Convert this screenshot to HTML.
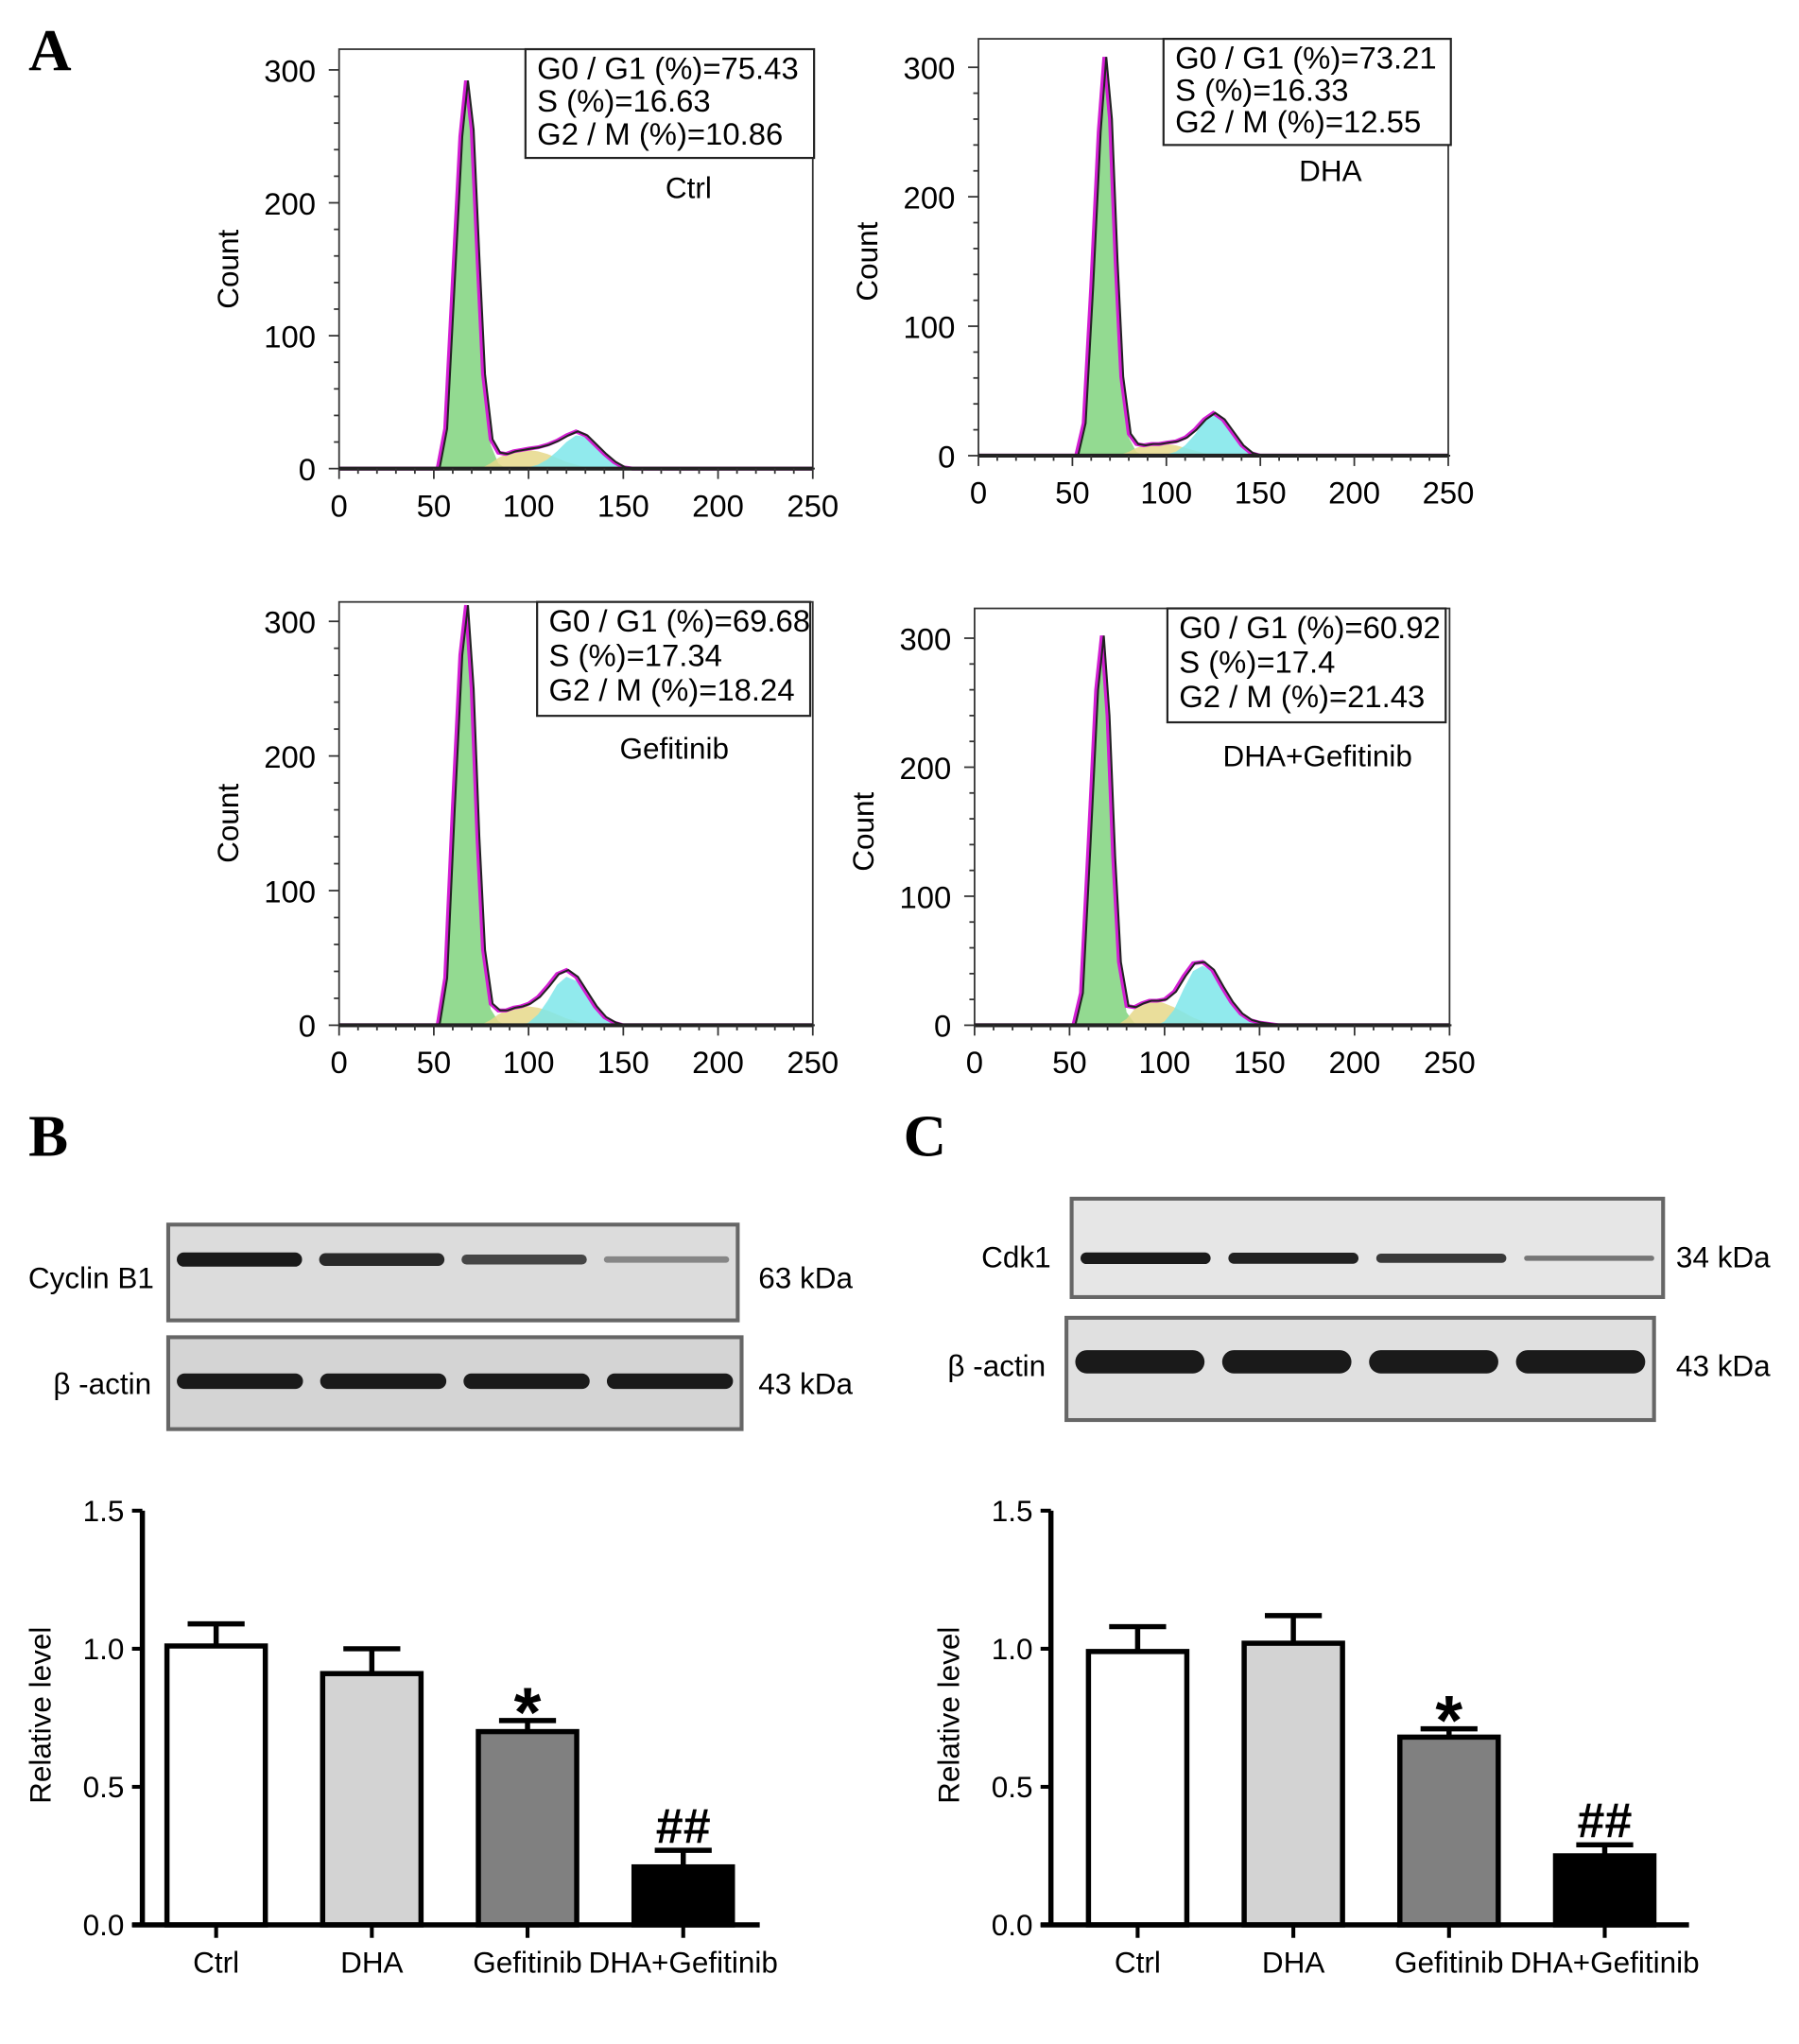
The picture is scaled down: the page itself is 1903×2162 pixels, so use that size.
<!DOCTYPE html>
<html><head><meta charset="utf-8"><style>
html,body{margin:0;padding:0;background:#fff;}
svg{display:block;font-family:"Liberation Sans",Arial,sans-serif;}
</style></head><body>
<svg id="fig" width="1903" height="2162" viewBox="0 0 1390 1579" preserveAspectRatio="none" xmlns="http://www.w3.org/2000/svg">
<text x="22" y="54" font-family="Liberation Serif" font-weight="bold" font-size="46">A</text>
<text x="22" y="893" font-family="Liberation Serif" font-weight="bold" font-size="46">B</text>
<text x="698" y="893" font-family="Liberation Serif" font-weight="bold" font-size="46">C</text>
</svg>
<script>
const NS='http://www.w3.org/2000/svg';
const svg=document.getElementById('fig');
// ---------- data ----------
const histX=[45,52,56,60,64,67,70,73,76,80,84,88,92,96,100,105,110,115,120,125,130,135,140,145,150,155,160];
const ctrlG1=[0,0,30,140,250,292,255,160,70,18,4,0,0,0,0,0,0,0,0,0,0,0,0,0,0,0,0];
const ctrlS=[0,0,0,0,0,0,0,0,1,4,8,11,13,14,14,13,11,8,5,3,1,0,0,0,0,0,0];
const ctrlG2=[0,0,0,0,0,0,0,0,0,0,0,0,0,0,1,3,7,13,20,25,24,18,11,5,1,0,0];
const dhaG1=[0,0,25,130,250,308,260,150,60,14,3,0,0,0,0,0,0,0,0,0,0,0,0,0,0,0,0];
const dhaS=[0,0,0,0,0,0,0,0,1,3,6,8,9,9,9,8,6,4,2,1,0,0,0,0,0,0,0];
const dhaG2=[0,0,0,0,0,0,0,0,0,0,0,0,0,0,1,3,8,16,26,32,28,18,8,2,0,0,0];
const gefG1=[0,0,35,160,275,312,250,140,55,12,3,0,0,0,0,0,0,0,0,0,0,0,0,0,0,0,0];
const gefS=[0,0,0,0,0,0,0,0,1,4,8,11,13,14,14,13,11,8,5,3,1,0,0,0,0,0,0];
const gefG2=[0,0,0,0,0,0,0,0,0,0,0,0,0,0,2,8,18,30,36,33,24,14,6,2,0,0,0];
const comboG1=[0,0,25,140,260,302,240,130,48,10,2,0,0,0,0,0,0,0,0,0,0,0,0,0,0,0,0];
const comboS=[0,0,0,0,0,0,0,0,1,5,12,17,19,19,17,14,10,6,3,1,0,0,0,0,0,0,0];
const comboG2=[0,0,0,0,0,0,0,0,0,0,0,0,0,0,3,12,28,42,46,42,30,18,9,4,2,1,0];
const histTicks=[0,50,100,150,200,250];
const countTicks=[0,100,200,300];
const barCats=['Ctrl','DHA','Gefitinib','DHA+Gefitinib'];
const cyclinVals=[1.01,0.91,0.70,0.21];
const cyclinErr=[0.08,0.09,0.04,0.06];
const cdkVals=[0.99,1.02,0.68,0.25];
const cdkErr=[0.09,0.10,0.03,0.04];
const barTicks=[0.0,0.5,1.0,1.5];
const cyclinBands=[1.0,0.9,0.7,0.25];
const cdkBands=[1.0,0.95,0.8,0.4];
const actinBands=[1.0,1.0,1.0,1.0];

function el(tag,attrs,parent){const e=document.createElementNS(NS,tag);for(const k in attrs)e.setAttribute(k,attrs[k]);(parent||svg).appendChild(e);return e;}
function txt(x,y,s,size,parent,extra){const t=el('text',Object.assign({x:x,y:y,'font-size':size},extra||{}),parent);t.textContent=s;return t;}

function hist(c){
  const g=el('g',{});
  
  
  const sx=v=>c.x0+(v/250)*(c.x1-c.x0);
  const sy=v=>c.y0-v*(c.y0-c.y300)/300;
  const area=(arr,fill)=>{let d='M'+sx(histX[0])+','+sy(0);histX.forEach((x,i)=>{d+=' L'+sx(x)+','+sy(arr[i]);});d+=' L'+sx(histX[histX.length-1])+','+sy(0)+'Z';const p=el('path',{d:d,fill:fill,opacity:0.85},g);return p;};
  const a1=area(c.g1,'#80d47e');
  const a2=area(c.s,'#e6d88a');
  const a3=area(c.g2,'#7ee6ea');
  const tot=histX.map((x,i)=>c.g1[i]+c.s[i]+c.g2[i]);
  let d='M'+c.x0+','+sy(0);histX.forEach((x,i)=>{d+=' L'+sx(x)+','+sy(tot[i]);});d+=' L'+c.x1+','+sy(0);
  const m=el('path',{d:d,fill:'none',stroke:'#d21ed2','stroke-width':3},g);
  
  const b=el('path',{d:d,fill:'none',stroke:'#222','stroke-width':1.5,transform:'translate(1.5,0)'},g);
  
  el('rect',{x:c.x0,y:c.top,width:c.x1-c.x0,height:c.y0-c.top,fill:'none',stroke:'#333','stroke-width':1.3},g);
  el('line',{x1:c.x0,x2:c.x1,y1:c.y0,y2:c.y0,stroke:'#222','stroke-width':3},g);
  for(let v=0;v<=250;v+=10){const big=v%50===0;el('line',{x1:sx(v),x2:sx(v),y1:c.y0,y2:c.y0+(big?8:4),stroke:'#333','stroke-width':1.3},g);}
  histTicks.forEach(v=>{const t=txt(sx(v),c.y0+37,String(v),24,g,{'text-anchor':'middle'});});
  for(let v=0;v<=300;v+=20){const big=v%100===0;el('line',{x1:c.x0-(big?8:4),x2:c.x0,y1:sy(v),y2:sy(v),stroke:'#333','stroke-width':1.3},g);}
  countTicks.forEach(v=>{const t=txt(c.x0-18,sy(v)+9,String(v),24,g,{'text-anchor':'end'});});
  const yl=txt(0,0,'Count',23,g,{'text-anchor':'middle',transform:'translate('+(c.x0-78)+','+(c.y0+c.y300)/2+') rotate(-90)'});
  
  const bx=el('rect',{x:c.bx0,y:c.top,width:c.bx1-c.bx0,height:c.bh,fill:'#fff',stroke:'#222','stroke-width':1.6},g);
  
  c.stats.forEach((s,i)=>{const t=txt(c.bx0+9,c.top+23+i*(c.bh-8)/3,s,24,g);});
  const tl=txt(c.lx,c.ly,c.label,23,g,{'text-anchor':'middle'});
  
}
hist({name:'histogram-ctrl',x0:262,x1:628,y0:362,y300:54,top:38,bx0:406,bx1:629,bh:84,g1:ctrlG1,s:ctrlS,g2:ctrlG2,stats:['G0 / G1 (%)=75.43','S (%)=16.63','G2 / M (%)=10.86'],label:'Ctrl',lx:532,ly:153});
hist({name:'histogram-dha',x0:756,x1:1119,y0:352,y300:52,top:30,bx0:899,bx1:1121,bh:82,g1:dhaG1,s:dhaS,g2:dhaG2,stats:['G0 / G1 (%)=73.21','S (%)=16.33','G2 / M (%)=12.55'],label:'DHA',lx:1028,ly:140});
hist({name:'histogram-gefitinib',x0:262,x1:628,y0:792,y300:480,top:465,bx0:415,bx1:626,bh:88,g1:gefG1,s:gefS,g2:gefG2,stats:['G0 / G1 (%)=69.68','S (%)=17.34','G2 / M (%)=18.24'],label:'Gefitinib',lx:521,ly:586});
hist({name:'histogram-dha-gefitinib',x0:753,x1:1120,y0:792,y300:493,top:470,bx0:902,bx1:1117,bh:88,g1:comboG1,s:comboS,g2:comboG2,stats:['G0 / G1 (%)=60.92','S (%)=17.4','G2 / M (%)=21.43'],label:'DHA+Gefitinib',lx:1018,ly:592});

function blot(c){
  const g=el('g',{});
  
  
  el('rect',{x:c.x0,y:c.y0,width:c.x1-c.x0,height:c.y1-c.y0,fill:c.bg,stroke:'#666','stroke-width':3},g);
  const w=(c.x1-c.x0)/4;
  c.bands.forEach((v,i)=>{const h=c.th*Math.max(v,0.45);const b=el('rect',{x:c.x0+w*(i+0.06),y:c.by-h/2,width:w*0.88,height:h,rx:h/2,fill:'#1a1a1a',opacity:0.25+0.75*v},g);});
  const l=txt(c.lx,c.ly,c.label,23,g,{'text-anchor':'end'});
  const k=txt(c.x1+c.kdx,c.ly,c.kda,23,g);
}
blot({name:'blot-cyclin-b1',x0:130,x1:570,y0:946,y1:1020,bg:'#dcdcdc',bands:cyclinBands,by:973,th:11,label:'Cyclin B1',lx:119,ly:995,kda:'63 kDa',kdx:16});
blot({name:'blot-actin-b',x0:130,x1:573,y0:1033,y1:1104,bg:'#d4d4d4',bands:actinBands,by:1067,th:12,label:'β -actin',lx:117,ly:1077,kda:'43 kDa',kdx:13});
blot({name:'blot-cdk1',x0:828,x1:1285,y0:926,y1:1002,bg:'#e6e6e6',bands:cdkBands,by:972,th:9,label:'Cdk1',lx:812,ly:979,kda:'34 kDa',kdx:10});
blot({name:'blot-actin-c',x0:824,x1:1278,y0:1018,y1:1097,bg:'#e0e0e0',bands:actinBands,by:1052,th:18,label:'β -actin',lx:808,ly:1063,kda:'43 kDa',kdx:17});

function bars(c){
  const g=el('g',{});
  
  
  const sy=v=>c.y0-v*(c.y0-c.y15)/1.5;
  const fills=['#ffffff','#d3d3d3','#808080','#000000'];
  c.vals.forEach((v,i)=>{
    const cx=c.cx0+i*c.step;
    const top=sy(v+c.err[i]);
    const e=el('line',{x1:cx,x2:cx,y1:sy(v),y2:top,stroke:'#000','stroke-width':4},g);
    
    el('line',{x1:cx-22,x2:cx+22,y1:top,y2:top,stroke:'#000','stroke-width':4},g);
    const r=el('rect',{x:cx-38,y:sy(v),width:76,height:c.y0-sy(v),fill:fills[i],stroke:'#000','stroke-width':4},g);
    
    el('line',{x1:cx,x2:cx,y1:c.y0,y2:c.y0+10,stroke:'#000','stroke-width':3},g);
    const t=txt(cx,c.y0+37,barCats[i],23,g,{'text-anchor':'middle'});
  });
  el('line',{x1:c.ax,x2:c.ax,y1:c.y15,y2:c.y0,stroke:'#000','stroke-width':4},g);
  el('line',{x1:c.ax-8,x2:c.xend,y1:c.y0,y2:c.y0,stroke:'#000','stroke-width':4},g);
  barTicks.forEach(v=>{el('line',{x1:c.ax-8,x2:c.ax,y1:sy(v),y2:sy(v),stroke:'#000','stroke-width':3},g);const t=txt(c.ax-14,sy(v)+8,v.toFixed(1),23,g,{'text-anchor':'end'});});
  const yl=txt(0,0,'Relative level',23,g,{'text-anchor':'middle',transform:'translate('+(c.ax-71)+',1325) rotate(-90)'});
  
  const s=txt(c.cx0+2*c.step,sy(c.vals[2]+c.err[2])+12,'*',54,g,{'text-anchor':'middle','font-weight':'bold'});
  
  const h=txt(c.cx0+3*c.step,sy(c.vals[3]+c.err[3])-6,'##',38,g,{'text-anchor':'middle','font-weight':'bold'});
  
}
bars({name:'bar-chart-cyclin-b1',ax:110,y0:1487,y15:1167,cx0:167,step:120.3,xend:587,vals:cyclinVals,err:cyclinErr});
bars({name:'bar-chart-cdk1',ax:812,y0:1487,y15:1167,cx0:879,step:120.3,xend:1305,vals:cdkVals,err:cdkErr});
</script>
</body></html>
